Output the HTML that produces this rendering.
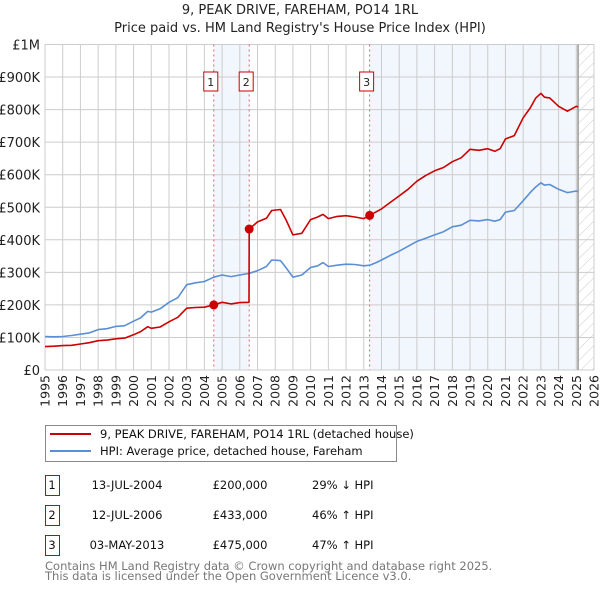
<!DOCTYPE html>
<html><head><meta charset="utf-8">
<style>
body{margin:0;background:#fff;font-family:"Liberation Sans","DejaVu Sans",sans-serif;}
#wrap{position:relative;width:600px;height:590px;overflow:hidden;}
</style></head>
<body>
<div id="wrap">
<svg id="chart" width="600" height="590" xmlns="http://www.w3.org/2000/svg" font-family="DejaVu Sans, Liberation Sans, sans-serif">
<text x="300" y="14" text-anchor="middle" font-size="13" fill="#222">9, PEAK DRIVE, FAREHAM, PO14 1RL</text>
<text x="300" y="32" text-anchor="middle" font-size="13" fill="#222">Price paid vs. HM Land Registry's House Price Index (HPI)</text>
<g id="plot"></g>
<g>
<rect x="45.5" y="425.5" width="351" height="36" fill="#fff" stroke="#888"/>
<line x1="50" y1="434" x2="91" y2="434" stroke="#cc0000" stroke-width="2"/>
<text x="100" y="438" font-size="11.5" fill="#111">9, PEAK DRIVE, FAREHAM, PO14 1RL (detached house)</text>
<line x1="50" y1="451" x2="91" y2="451" stroke="#5b8fd4" stroke-width="2"/>
<text x="100" y="455" font-size="11.5" fill="#111">HPI: Average price, detached house, Fareham</text>
</g>
<g id="table" font-size="11.5" fill="#111"></g>
<text x="45" y="570" font-size="11.5" fill="#777">Contains HM Land Registry data © Crown copyright and database right 2025.</text>
<text x="45" y="580" font-size="11.5" fill="#777">This data is licensed under the Open Government Licence v3.0.</text>
</svg>
</div>
<script>
const hpiYears = [1995,1995.5,1996,1996.5,1997,1997.5,1998,1998.5,1999,1999.5,2000,2000.4,2000.8,2001,2001.5,2002,2002.5,2003,2003.5,2004,2004.53,2005,2005.5,2006,2006.53,2007,2007.5,2007.8,2008.3,2008.6,2009.0,2009.5,2010,2010.4,2010.7,2011,2011.5,2012,2012.5,2013,2013.33,2013.7,2014,2014.5,2015,2015.5,2016,2016.5,2017,2017.5,2018,2018.5,2019,2019.5,2020,2020.4,2020.7,2021,2021.5,2022,2022.4,2022.7,2023.0,2023.2,2023.5,2024,2024.5,2025,2025.1];
const hpiValues = [103,102,103,106,110,114,124,127,134,136,150,160,180,178,188,208,222,262,268,272,285,292,287,292,297,305,318,338,336,315,285,292,315,320,330,318,322,325,324,320,322,330,338,352,365,380,395,405,415,425,440,445,460,458,462,457,462,485,490,520,545,562,575,568,570,555,545,550,548];
const propYears = [1995,1995.5,1996,1996.5,1997,1997.5,1998,1998.5,1999,1999.5,2000,2000.4,2000.8,2001,2001.5,2002,2002.5,2003,2003.5,2004,2004.53,2005,2005.5,2006,2006.52,2006.53,2007,2007.5,2007.8,2008.3,2008.6,2009.0,2009.5,2010,2010.4,2010.7,2011,2011.5,2012,2012.5,2013,2013.33,2013.7,2014,2014.5,2015,2015.5,2016,2016.5,2017,2017.5,2018,2018.5,2019,2019.5,2020,2020.4,2020.7,2021,2021.5,2022,2022.4,2022.7,2023.0,2023.2,2023.5,2024,2024.5,2025,2025.1];
const propValues = [72,73,75,76,80,84,90,92,96,98,108,118,133,128,132,148,162,190,192,193,200,208,203,207,208,433,455,466,490,493,462,415,420,462,470,478,465,472,474,470,465,475,486,495,515,535,555,580,598,612,622,640,652,678,675,680,672,680,710,720,775,805,835,850,838,836,810,795,810,808];
const saleYears = [2004.53,2006.53,2013.33];
const saleValues = [200,433,475];
const saleLabels = ["1","2","3"];
const saleDates = ["13-JUL-2004","12-JUL-2006","03-MAY-2013"];
const salePrices = ["£200,000","£433,000","£475,000"];
const saleHpi = ["29% \u2193 HPI","46% \u2191 HPI","47% \u2191 HPI"];
const yTicks = [0,100,200,300,400,500,600,700,800,900,1000];
const yTickLabels = ["£0","£100K","£200K","£300K","£400K","£500K","£600K","£700K","£800K","£900K","£1M"];
const xTicks = [1995,1996,1997,1998,1999,2000,2001,2002,2003,2004,2005,2006,2007,2008,2009,2010,2011,2012,2013,2014,2015,2016,2017,2018,2019,2020,2021,2022,2023,2024,2025,2026];

const X0=45,X1=594,Y0=370,Y1=44.5;
const xs=y=>X0+(y-1995)/(2026-1995)*(X1-X0);
const ys=v=>Y0-v/1000*(Y0-Y1);
const NS="http://www.w3.org/2000/svg";
const plot=document.getElementById('plot');
function mk(tag,attrs,parent){const e=document.createElementNS(NS,tag);for(const k in attrs)e.setAttribute(k,attrs[k]);(parent||plot).appendChild(e);return e;}

let r=mk('rect',{x:xs(saleYears[0]),y:Y1,width:xs(saleYears[1])-xs(saleYears[0]),height:Y0-Y1,fill:'#eef3fc',opacity:0.75});


const endYear=2025.1;
r=mk('rect',{x:xs(saleYears[2]),y:Y1,width:xs(endYear)-xs(saleYears[2]),height:Y0-Y1,fill:'#eef3fc',opacity:0.75});


const defs=mk('defs',{});
const pat=mk('pattern',{id:'hatch',width:8,height:8,patternUnits:'userSpaceOnUse',patternTransform:'rotate(45)'},defs);
mk('line',{x1:0,y1:0,x2:0,y2:8,stroke:'#ccc','stroke-width':1},pat);
r=mk('rect',{x:xs(endYear),y:Y1,width:X1-xs(endYear),height:Y0-Y1,fill:'url(#hatch)'});



yTicks.forEach((t,i)=>{
 let l=mk('line',{x1:X0,x2:X1,y1:ys(t),y2:ys(t),stroke:'#ccc','stroke-width':1});
 
 
 let tx=mk('text',{x:X0-5,y:ys(t)+5,'text-anchor':'end','font-size':13,fill:'#222'});
 tx.textContent=yTickLabels[i];
 
 
});
xTicks.forEach(t=>{
 let l=mk('line',{x1:xs(t),x2:xs(t),y1:Y1,y2:Y0,stroke:'#ccc','stroke-width':1});
 
 
 let tx=mk('text',{x:0,y:0,'text-anchor':'end','font-size':12.5,fill:'#222',transform:`translate(${xs(t)+4.5},375) rotate(-90)`});
 tx.textContent=t;
 
 
});
let vl=mk('line',{x1:xs(endYear),x2:xs(endYear),y1:Y1,y2:Y0,stroke:'#999','stroke-width':1.5});



saleYears.forEach((y,i)=>{
 let l=mk('line',{x1:xs(y),x2:xs(y),y1:Y1,y2:Y0,stroke:'#e06070','stroke-width':1,'stroke-dasharray':'2,3'});
 
 
 let b=mk('rect',{x:xs(y)-10,y:72,width:14,height:19,fill:'#fff',stroke:'#cc0000'});
 
 
 let t=mk('text',{x:xs(y)-3,y:86,'text-anchor':'middle','font-size':11,fill:'#222'});
 t.textContent=saleLabels[i];
 
 
});

function path(xa,va,color,name){
 const d=xa.map((x,i)=>(i?'L':'M')+xs(x).toFixed(1)+','+ys(va[i]).toFixed(1)).join('');
 const p=mk('path',{d:d,fill:'none',stroke:color,'stroke-width':1.6,'stroke-linejoin':'round'});
 
 
}
path(hpiYears,hpiValues,'#5b8fd4','hpi-line');
path(propYears,propValues,'#cc0000','property-line');
saleYears.forEach((y,i)=>{
 const c=mk('circle',{cx:xs(y),cy:ys(saleValues[i]),r:4.5,fill:'#cc0000'});
 
 
});

const tb=document.getElementById('table');
saleLabels.forEach((s,i)=>{
 const y=475+i*30;
 let b=mk('rect',{x:45.5,y:y+0.5,width:14,height:20,fill:'#fff',stroke:'#cc0000'},tb);
 
 
 const cells=[[52,s,'middle','table-sale-number'],[127,saleDates[i],'middle','table-sale-date'],[240,salePrices[i],'middle','table-sale-price'],[312,saleHpi[i],'start','table-sale-hpi-diff']];
 cells.forEach(c=>{
  let t=mk('text',{x:c[0],y:y+14,'text-anchor':c[2]},tb);
  t.textContent=c[1];
  
  
 });
});
</script>
</body></html>
